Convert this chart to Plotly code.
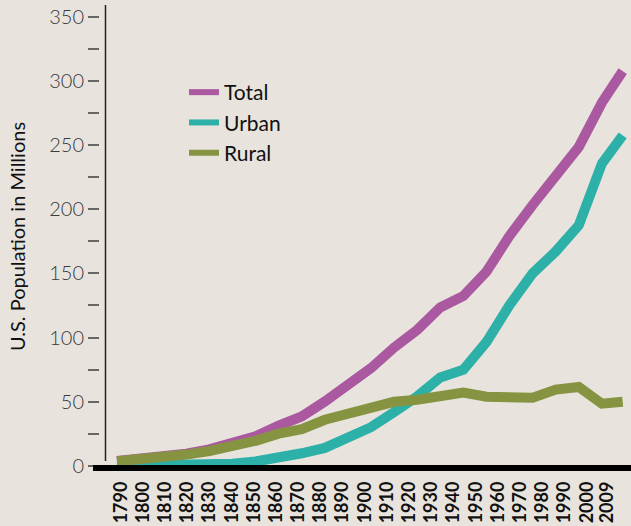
import plotly.graph_objects as go

years = [1790, 1800, 1810, 1820, 1830, 1840, 1850, 1860, 1870, 1880, 1890,
         1900, 1910, 1920, 1930, 1940, 1950, 1960, 1970, 1980, 1990, 2000, 2009]
total = [3.9, 5.3, 7.2, 9.6, 12.9, 17.1, 23.2, 31.4, 38.6, 50.2, 63.0,
         76.2, 92.2, 106.0, 123.5, 132.5, 151.3, 179.3, 203.3, 226.5, 248.5, 283.0, 307.5]
urban = [0.2, 0.3, 0.5, 0.7, 1.1, 1.8, 3.5, 6.2, 9.9, 14.1, 22.1,
         30.2, 42.0, 54.2, 69.0, 75.0, 96.5, 125.3, 150.0, 167.1, 187.5, 235.5, 257.5]
rural = [3.7, 5.0, 6.7, 8.9, 11.7, 15.2, 19.6, 25.2, 28.7, 36.0, 40.8,
         46.0, 50.0, 51.6, 54.0, 57.2, 54.0, 53.5, 53.2, 59.5, 61.5, 48.5, 50.0]
tick_years = years
y_ticks = list(range(0, 351, 25))
y_labels = [str(v) if v % 50 == 0 else "" for v in y_ticks]

c_total = "#AA58A0"
c_urban = "#2CB0A8"
c_rural = "#869442"
bg = "#E8E4DD"

fig = go.Figure()
for name, vals, col in [("Total", total, c_total), ("Urban", urban, c_urban), ("Rural", rural, c_rural)]:
    fig.add_trace(go.Scatter(x=years, y=vals, mode="lines", name=name,
                             line=dict(color=col, width=10), showlegend=False,
                             hoverinfo="skip"))
for name, col in [("Total", c_total), ("Urban", c_urban), ("Rural", c_rural)]:
    fig.add_trace(go.Scatter(x=[None], y=[None], mode="lines", name=name,
                             line=dict(color=col, width=6), showlegend=True))
fig.add_trace(go.Scatter(x=[None], y=[None], xaxis="x2", yaxis="y",
                         showlegend=False, hoverinfo="skip"))

W, H = 631, 526
L, R, T, B = 100, 0, 5, 58
pw = W - L - R
ph = H - T - B

fig.update_layout(
    width=W, height=H,
    margin=dict(l=L, r=R, t=T, b=B, pad=0, autoexpand=False),
    paper_bgcolor=bg, plot_bgcolor=bg,
    xaxis=dict(range=[1782.64, 2012.6], showgrid=False, zeroline=False, automargin=False,
               showline=False, showticklabels=False, ticks=""),
    xaxis2=dict(range=[1780.67, 2019.96], overlaying="x", anchor="y", side="bottom",
                tickmode="array", tickvals=tick_years, ticktext=[str(y) for y in tick_years],
                tickangle=-90, showgrid=False, zeroline=False, showline=False,
                ticks="", ticklabelstandoff=9, automargin=False,
                tickfont=dict(family="Lato", size=18, color="#111111", weight="bold")),
    yaxis=dict(range=[-1.56, 359], tickmode="array", tickvals=y_ticks, ticktext=y_labels,
               ticks="outside", ticklen=11, tickwidth=2, tickcolor="#666666",
               showgrid=False, zeroline=False, showline=False, automargin=False,
               tickfont=dict(family="Lato", size=20, color="#3a3a3a", weight=300),
               title=dict(text="U.S. Population in Millions", standoff=18,
                          font=dict(family="Lato", size=20, color="#111111"))),
    legend=dict(x=(184 - L) / pw, y=(H - B - 72) / ph, xanchor="left", yanchor="top",
                bgcolor="rgba(0,0,0,0)", font=dict(family="Lato", size=21, color="#111111"),
                tracegroupgap=0),
    shapes=[
        dict(type="line", xref="paper", yref="paper",
             x0=(105.5 - L) / pw, x1=(105.5 - L) / pw,
             y0=(H - B - 461) / ph, y1=1, line=dict(color="#222222", width=1.5), layer="above"),
        dict(type="line", xref="paper", yref="paper",
             x0=(93 - L) / pw, x1=1.0, y0=0, y1=0,
             line=dict(color="#000000", width=6), layer="above"),
    ],
)

fig.write_html("out.html", config={"displayModeBar": False},
               post_script="document.body.style.margin='0';document.body.style.overflow='hidden';")
